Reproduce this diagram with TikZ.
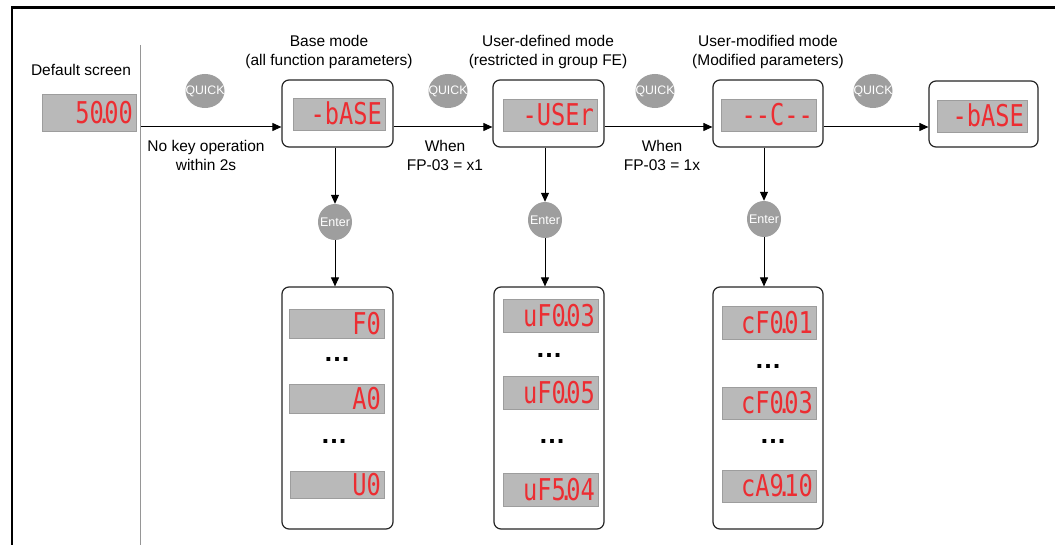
\documentclass[tikz,border=0pt]{standalone}
\usepackage{fontspec}
\setmainfont{Liberation Sans}
\newfontfamily\segfont[FakeStretch=0.79]{DejaVu Sans Mono}
\usetikzlibrary{arrows.meta,shapes.geometric,calc}
\definecolor{dispgray}{RGB}{185,185,185}
\definecolor{segred}{RGB}{236,45,50}
\definecolor{btngray}{RGB}{158,158,158}
\definecolor{divgray}{RGB}{150,150,150}
\newcommand\sdot{\kern-0.23em.\kern-0.23em}
\tikzset{
 lbl/.style={font=\fontsize{15.5}{19}\selectfont, align=center, inner sep=0},
 box/.style={draw=black!85, line width=1.2pt, rounded corners=7pt, fill=white, inner sep=0},
 disp/.style={fill=dispgray, draw=dispgray!85!black, line width=0.4pt, inner sep=0},
 segtxt/.style={text=segred, font=\segfont\fontsize{30}{30}\selectfont, inner sep=0, anchor=base east},
 btn/.style={ellipse, fill=btngray, text=white, inner sep=0},
 arr/.style={-{Triangle[length=9pt,width=8pt]}, line width=1pt, black},
 dots/.style={font=\bfseries\fontsize{27}{27}\selectfont, inner sep=0},
}
% name, x1, y1, x2, y2, text
\newcommand\mkdisp[6]{%
 \node[disp, minimum width={#4-#2}, minimum height={#5-#3}] (#1) at ({(#2+#4)/2},{(#3+#5)/2}) {};
 \node[segtxt] (#1t) at ([xshift=-3pt,yshift=-10.8pt]#1.east) {#6};
}
% name, x1, y1, x2, y2
\newcommand\mkbox[5]{%
 \node[box, minimum width={#4-#2}, minimum height={#5-#3}] (#1) at ({(#2+#4)/2},{(#3+#5)/2}) {};
}
\begin{document}
\begin{tikzpicture}[x=1pt,y=-1pt]
\useasboundingbox (0,0) rectangle (1055,545);
\fill[white] (0,0) rectangle (1055,545);
% frame and divider
\draw[line width=2.2pt] (12,546) -- (12,7.5) -- (1056,7.5);
\draw[divgray, line width=0.9pt] (140,45) -- (140,546);

% titles
\node[lbl] (tdef) at (81,70) {Default screen};
\node[lbl] (t1) at (329,52) {Base mode\\(all function parameters)};
\node[lbl] (t2) at (548,52) {User-defined mode\\(restricted in group FE)};
\node[lbl] (t3) at (768,52) {User-modified mode\\(Modified parameters)};

% default display
\mkdisp{d0}{42}{94}{136}{131}{50\sdot00}

% top boxes
\mkbox{b1}{282}{80}{393}{147}
\mkbox{b2}{493}{80}{604}{147}
\mkbox{b3}{713}{80}{823}{147}
\mkbox{b4}{929}{81}{1038}{147}
\mkdisp{d1}{293}{98}{385}{130}{-bASE}
\mkdisp{d2}{503}{99}{597}{131}{-USEr}
\mkdisp{d3}{721}{99}{816}{131}{--C--}
\mkdisp{d4}{937}{100}{1027}{132}{-bASE}

% QUICK buttons
\node[btn, minimum width=39pt, minimum height=34pt, font=\fontsize{12.3}{13}\selectfont] (q1) at (205,91) {\makebox[0pt]{QUICK}};
\node[btn, minimum width=39pt, minimum height=34pt, font=\fontsize{12.3}{13}\selectfont] (q2) at (448,91) {\makebox[0pt]{QUICK}};
\node[btn, minimum width=39pt, minimum height=34pt, font=\fontsize{12.3}{13}\selectfont] (q3) at (655,91) {\makebox[0pt]{QUICK}};
\node[btn, minimum width=39pt, minimum height=34pt, font=\fontsize{12.3}{13}\selectfont] (q4) at (873,91) {\makebox[0pt]{QUICK}};

% horizontal arrows
\coordinate (c0) at (141,127);
\draw[arr] (c0) -- (b1.west |- c0);
\draw[arr] (b1.east |- c0) -- (b2.west |- c0);
\draw[arr] (b2.east |- c0) -- (b3.west |- c0);
\draw[arr] (b3.east |- c0) -- (b4.west |- c0);

% arrow labels
\node[lbl] (w0) at (206,155) {No key operation\\within 2s};
\node[lbl] (w1) at (445,155) {When\\FP-03 = x1};
\node[lbl] (w2) at (662,155) {When\\FP-03 = 1x};

% Enter buttons
\node[btn, minimum width=34pt, minimum height=36pt, font=\fontsize{12.5}{13}\selectfont] (e1) at (335,222) {\makebox[0pt]{Enter}};
\node[btn, minimum width=34pt, minimum height=36pt, font=\fontsize{12.5}{13}\selectfont] (e2) at (545,220) {\makebox[0pt]{Enter}};
\node[btn, minimum width=34pt, minimum height=36pt, font=\fontsize{12.5}{13}\selectfont] (e3) at (764,219) {\makebox[0pt]{Enter}};

% list boxes
\mkbox{L1}{282}{287}{393}{529}
\mkbox{L2}{494}{287}{604}{529}
\mkbox{L3}{713}{287}{823}{529}

\draw[arr] (e1 |- b1.south) -- (e1.north);
\draw[arr] (e1.south) -- (e1 |- L1.north);
\draw[arr] (e2 |- b2.south) -- (e2.north);
\draw[arr] (e2.south) -- (e2 |- L2.north);
\draw[arr] (e3 |- b3.south) -- (e3.north);
\draw[arr] (e3.south) -- (e3 |- L3.north);

% list 1
\mkdisp{l1a}{289}{309}{384}{338}{F0}
\mkdisp{l1b}{289}{384}{384}{413}{A0}
\mkdisp{l1c}{290}{471}{384}{498}{U0}
\node[dots] (l1d1) at (337,359) {…};
\node[dots] (l1d2) at (334,441) {…};

% list 2
\mkdisp{l2a}{503}{299}{598}{332}{uF0\sdot03}
\mkdisp{l2b}{503}{376}{598}{409}{uF0\sdot05}
\mkdisp{l2c}{503}{473}{598}{506}{uF5\sdot04}
\node[dots] (l2d1) at (549,355) {…};
\node[dots] (l2d2) at (552,441) {…};

% list 3
\mkdisp{l3a}{722}{306}{816}{339}{cF0\sdot01}
\mkdisp{l3b}{722}{387}{816}{419}{cF0\sdot03}
\mkdisp{l3c}{722}{470}{816}{502}{cA9\sdot10}
\node[dots] (l3d1) at (768,366) {…};
\node[dots] (l3d2) at (773,441) {…};
\end{tikzpicture}
\end{document}
